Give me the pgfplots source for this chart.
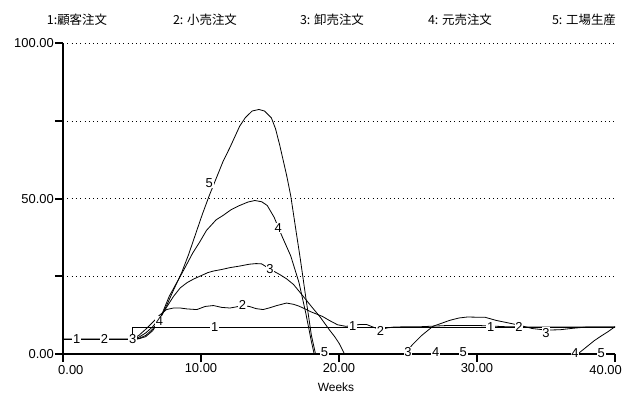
\documentclass[border=0pt]{standalone}
\usepackage{pgfplots}
\pgfplotsset{compat=1.18}
\usepackage{pgfplotstable}
\usepackage{fontspec}
\setmainfont{Liberation Sans}
\newfontfamily\cjk{Noto Sans CJK JP}
\usetikzlibrary{calc}

\pgfplotstableread{
x y
0 4.7
5 4.7
5 8.7
40 8.7
}\sone

\pgfplotstableread{
x y
0 4.7
5 4.7
5.5 6
6 8
6.5 10.2
7 12.5
7.5 14.3
8 14.8
8.5 14.8
9 14.5
9.7 14.3
10.3 15.3
10.9 15.6
11.5 15.0
12.1 14.8
12.6 15.2
13 15.6
13.5 15.3
14 14.6
14.5 14.3
15 14.9
15.5 15.6
16.2 16.4
16.7 16.0
17.1 15.4
17.5 14.6
17.9 13.7
18.4 12.8
18.8 12.1
19.3 10.8
19.9 9.4
20.5 8.9
21 9.2
21.5 9.5
22 9.5
22.5 8.6
23 7.8
23.5 8.4
24 8.7
26 8.8
28 9.2
30 9.2
31 9.0
32 8.8
33 8.7
40 8.7
}\stwo

\pgfplotstableread{
x y
0 4.7
5 4.7
5.5 5.4
6 6.8
6.5 8.8
7 11.5
7.5 15
8 18.5
8.5 21.3
9 23
9.5 24.2
9.9 25
10.5 26.2
10.9 26.7
11.5 27.2
12.1 27.8
12.8 28.3
13.5 28.9
14 29.1
14.4 29.0
15 27.3
15.7 25.6
16.2 24.2
16.7 22.4
17.4 18.6
18 15.3
18.6 12.1
19.3 7.8
19.7 5.5
20 3.5
20.4 0
24.8 0
25.3 2.9
26 6
26.8 8.9
27.5 10
28 10.8
28.7 11.6
29.3 11.9
30.6 11.8
31 11.3
31.4 10.8
32.6 9.7
33.3 9.0
34 8.2
35 7.7
36 7.8
37 8.3
38 8.7
40 8.7
}\sthree

\pgfplotstableread{
x y
0 4.7
5 4.7
5.5 5
6 6
6.5 8
7 11
7.7 18.6
8.5 25
8.9 28.3
9.4 32.5
9.9 36
10.4 39.8
11.1 43.2
11.6 44.6
12.2 46.5
12.8 47.8
13.4 48.9
13.9 49.4
14.4 49.0
14.8 47.8
15.3 44
15.9 37.6
16.5 31.6
17.1 23
17.6 13
18.0 4
18.2 0
37.3 0
38 2.5
38.5 4.3
39 5.8
39.5 7.2
40 8.8
}\sfour

\pgfplotstableread{
x y
0 4.7
5 4.7
5.5 4.9
6 5.6
6.5 7.5
7 11
7.5 15.5
8 20.5
8.6 26.2
9.1 32
9.6 38.5
10.1 45
10.6 51
11.1 56.5
11.6 62
12.1 66.5
12.8 73.3
13.2 76
13.7 78.2
14.2 78.7
14.6 78.2
15.1 76
15.4 72.5
15.7 67.3
16.2 57.6
16.5 51
16.9 39.2
17.2 30.5
17.6 18
18.0 6
18.3 0
40 0
}\sfive

\newcommand\lab[3]{\node[fill=white,inner sep=0.8bp,font=\fontsize{13}{15}\selectfont] at (axis cs:#1,#2) {#3};}

\begin{document}
\begin{tikzpicture}
\begin{axis}[
  name=ax, at={(0,0)}, anchor=south west,
  scale only axis, width=552bp, height=310.7bp,
  xmin=0, xmax=40, ymin=0, ymax=100,
  axis x line=bottom, axis y line=left,
  axis line style={-, line width=2.2bp, black},
  x axis line style={-}, y axis line style={-},
  xtick={0,10,20,30,40}, xticklabels={,10.00,20.00,30.00,},
  ytick={0,25,50,75,100}, yticklabels={0.00,,50.00,,100.00},
  tick align=outside, major tick length=8bp,
  tick style={line width=2bp, black},
  ymajorgrids,
  major grid style={line width=0.9bp, dash pattern=on 0.9bp off 3.4bp, black},
  ticklabel style={font=\fontsize{13}{15}\selectfont, inner sep=1bp},
  clip=false,
]
\addplot[black, line width=0.8bp, mark=none] table {\sone};
\addplot[black, line width=0.8bp, mark=none] table {\stwo};
\addplot[black, line width=0.8bp, mark=none] table {\sthree};
\addplot[black, line width=0.8bp, mark=none] table {\sfour};
\addplot[black, line width=0.8bp, mark=none] table {\sfive};
\lab{1.0}{4.7}{1}
\lab{3.0}{4.7}{2}
\lab{5.05}{4.7}{3}
\lab{7.0}{10.5}{4}
\lab{10.6}{55}{5}
\lab{11.0}{8.7}{1}
\lab{13.0}{15.8}{2}
\lab{15.0}{27.2}{3}
\lab{15.6}{40.5}{4}
\lab{18.95}{0.6}{5}
\lab{21.0}{9.0}{1}
\lab{23.0}{7.3}{2}
\lab{25.0}{0.6}{3}
\lab{27.0}{0.6}{4}
\lab{29.0}{0.6}{5}
\lab{31.0}{8.8}{1}
\lab{33.05}{8.8}{2}
\lab{35.0}{6.8}{3}
\lab{37.1}{0.4}{4}
\lab{39.0}{0.4}{5}
\end{axis}
\begin{scope}[shift={(ax.south west)}]
\node[anchor=north west,inner sep=0pt,font=\fontsize{13}{15}\selectfont] at (-5bp,-11bp) {0.00};
\node[anchor=north east,inner sep=0pt,font=\fontsize{13}{15}\selectfont] at (559bp,-11bp) {40.00};
\node[font=\fontsize{12}{14}\selectfont] at (273bp,-33bp) {Weeks};
\node[font=\cjk\fontsize{12.5}{14}\selectfont] at (14bp,334bp) {1:顧客注文};
\node[font=\cjk\fontsize{12.5}{14}\selectfont] at (142bp,334bp) {2: 小売注文};
\node[font=\cjk\fontsize{12.5}{14}\selectfont] at (269bp,334bp) {3: 卸売注文};
\node[font=\cjk\fontsize{12.5}{14}\selectfont] at (397bp,334bp) {4: 元売注文};
\node[font=\cjk\fontsize{12.5}{14}\selectfont] at (521bp,334bp) {5: 工場生産};
\end{scope}
\pgfresetboundingbox
\path[use as bounding box] ($(ax.south west)+(-63bp,-42bp)$) rectangle ($(ax.south west)+(559bp,354bp)$);
\end{tikzpicture}
\end{document}
